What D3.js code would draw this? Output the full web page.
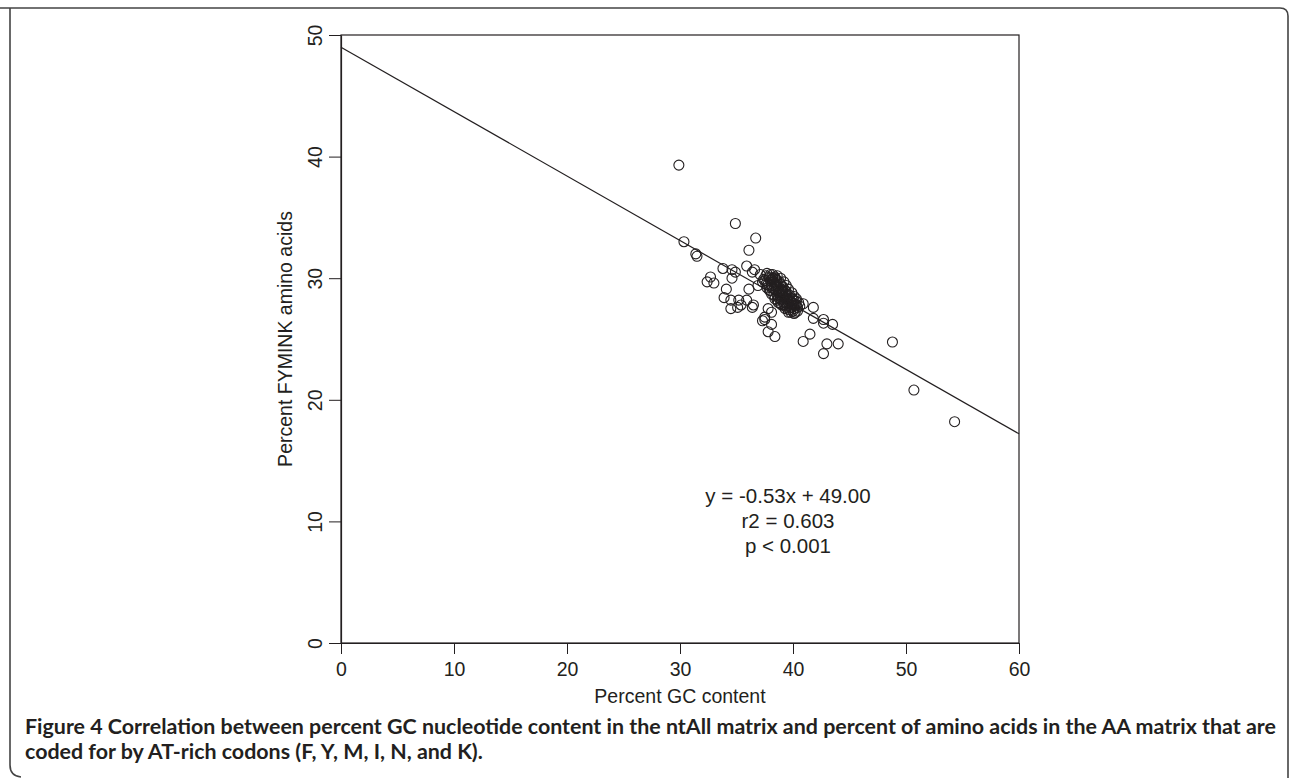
<!DOCTYPE html>
<html>
<head>
<meta charset="utf-8">
<script src="https://cdn.jsdelivr.net/npm/d3@7"></script>
<style>
  body { margin: 0; background: #fff; }
  svg { display: block; }
  .axis path, .axis line { stroke: #231f20; }
  .axis text { font-family: "Liberation Sans", Arial, sans-serif; font-size: 19.5px; fill: #231f20; }
</style>
</head>
<body>
<svg width="1290" height="778"></svg>
<script>
// Data: percent GC content vs percent FYMINK amino acids
var gcContent = [
  29.9, 30.35, 31.4, 31.5, 34.9, 36.7, 36.1, 33.8, 34.6, 34.9, 34.6, 32.7, 32.4, 33.0, 35.9,
  34.1, 36.1, 33.9, 34.5, 35.2, 35.9, 36.5, 36.4, 35.4, 35.1, 34.5, 37.8, 38.1, 37.5, 37.3,
  37.5, 38.1, 37.8, 38.4, 40.9, 41.5, 41.8, 41.8, 40.9, 42.7, 42.7, 43.5, 43.0, 44.0, 42.7,
  48.8, 50.7, 54.3, 36.6, 36.4, 37.1, 38.4, 36.9, 37.3,
  37.6, 37.9, 38.2, 38.5, 38.0, 38.3, 38.6, 38.9, 38.1, 38.4, 38.7, 39.0, 38.5, 38.8, 39.1,
  39.4, 38.6, 38.9, 39.2, 39.5, 39.0, 39.3, 39.6, 39.9, 39.2, 39.5, 39.8, 40.1, 39.7, 40.0,
  40.2, 39.9, 40.2, 40.3, 40.0, 39.7, 39.4, 39.1, 38.8, 38.4, 37.8, 38.0, 38.3, 38.6, 38.9,
  39.3, 40.4, 39.6, 38.2, 37.4, 38.7, 39.0, 39.8, 40.1, 39.4, 38.9, 38.5, 38.1, 39.6, 39.2,
  38.7, 37.7, 38.3,
  37.7, 38.0, 38.6, 38.9, 39.2, 39.4, 39.6, 39.9, 40.1, 40.3, 40.5, 40.6, 40.4, 40.1, 39.8,
  39.4, 39.0, 38.7, 38.4, 38.1, 37.9, 37.6, 37.5, 38.2, 38.9, 39.5, 40.0, 38.6, 39.3, 39.9,
  40.3, 37.9, 38.5, 39.1, 39.7
];
var fyminkPercent = [
  39.3, 33.0, 32.0, 31.8, 34.5, 33.3, 32.3, 30.8, 30.7, 30.5, 30.0, 30.1, 29.7, 29.6, 31.0,
  29.1, 29.1, 28.4, 28.2, 28.2, 28.2, 27.8, 27.6, 27.8, 27.6, 27.5, 27.5, 27.2, 26.8, 26.5,
  26.6, 26.2, 25.6, 25.2, 24.8, 25.4, 26.7, 27.6, 27.9, 26.6, 26.3, 26.2, 24.6, 24.6, 23.8,
  24.75, 20.8, 18.2, 30.7, 30.5, 30.3, 30.0, 29.4, 29.7,
  30.2, 30.1, 30.0, 29.9, 29.8, 29.7, 29.6, 29.5, 29.4, 29.3, 29.2, 29.1, 29.0, 28.9, 28.8,
  28.7, 28.6, 28.5, 28.4, 28.3, 28.2, 28.1, 28.0, 27.9, 27.8, 27.7, 27.6, 27.5, 27.4, 27.3,
  27.2, 27.6, 27.8, 28.1, 28.3, 28.6, 28.9, 29.3, 29.7, 30.1, 29.5, 29.0, 28.6, 28.2, 27.9,
  27.5, 27.6, 27.2, 30.3, 29.9, 28.8, 28.6, 28.1, 27.9, 28.4, 29.0, 29.4, 29.9, 28.5, 28.0,
  28.4, 29.2, 29.1,
  30.4, 30.3, 30.2, 30.0, 29.7, 29.4, 29.1, 28.8, 28.5, 28.3, 28.0, 27.7, 27.3, 27.1, 27.2,
  27.6, 27.8, 28.0, 28.3, 28.7, 29.0, 29.5, 29.8, 29.2, 28.3, 27.9, 27.7, 29.8, 29.0, 28.3,
  27.8, 30.0, 29.5, 28.9, 28.2
];
var fitSlope = -0.53;
var fitIntercept = 49.00;
var fitStats = ["y = -0.53x + 49.00", "r2 = 0.603", "p < 0.001"];
var xTicks = [0, 10, 20, 30, 40, 50, 60];
var yTicks = [0, 10, 20, 30, 40, 50];
var captionBold = "Figure 4";
var captionLines = [
  " Correlation between percent GC nucleotide content in the ntAll matrix and percent of amino acids in the AA matrix that are",
  "coded for by AT-rich codons (F, Y, M, I, N, and K)."
];

var ink = "#231f20";
var svg = d3.select("svg");

// Outer figure frame
svg.append("path")
  .attr("d", "M0,8 H1280 Q1288,8 1288,16 V778 M10,8 V765 Q10,776 21,777")
  .attr("fill", "none")
  .attr("stroke", "#444")
  .attr("stroke-width", 1.6);

var x = d3.scaleLinear().domain([0, 60]).range([341, 1019]);
var y = d3.scaleLinear().domain([0, 50]).range([643, 35]);

// Plot box
svg.append("rect")
  .attr("x", x(0)).attr("y", y(50))
  .attr("width", x(60) - x(0)).attr("height", y(0) - y(50))
  .attr("fill", "none").attr("stroke", ink).attr("stroke-width", 1.2);

var xAxis = svg.append("g")
  .attr("class", "axis")
  .attr("transform", "translate(0," + y(0) + ")")
  .call(d3.axisBottom(x).tickValues(xTicks).tickSize(11).tickPadding(8).tickSizeOuter(0));
xAxis.select(".domain").attr("stroke-width", 1.2);

var yAxis = svg.append("g")
  .attr("class", "axis")
  .attr("transform", "translate(" + x(0) + ",0)")
  .call(d3.axisLeft(y).tickValues(yTicks).tickSize(12).tickSizeOuter(0));
yAxis.select(".domain").attr("stroke-width", 1.2);
yAxis.selectAll(".tick text")
  .attr("transform", "rotate(-90)")
  .attr("x", 0)
  .attr("y", -19)
  .attr("dy", 0)
  .style("text-anchor", "middle");

// Axis titles
svg.append("text")
  .attr("x", (x(0) + x(60)) / 2).attr("y", 703)
  .attr("text-anchor", "middle")
  .style("font-family", "'Liberation Sans', Arial, sans-serif")
  .style("font-size", "19.5px").style("fill", ink)
  .text("Percent GC content");

svg.append("text")
  .attr("transform", "translate(292," + (y(0) + y(50)) / 2 + ") rotate(-90)")
  .attr("text-anchor", "middle")
  .style("font-family", "'Liberation Sans', Arial, sans-serif")
  .style("font-size", "19.5px").style("fill", ink)
  .text("Percent FYMINK amino acids");

// Regression line
svg.append("line")
  .attr("x1", x(0)).attr("y1", y(fitIntercept))
  .attr("x2", x(60)).attr("y2", y(fitIntercept + fitSlope * 60))
  .attr("stroke", ink).attr("stroke-width", 1.2);

// Points
var points = gcContent.map(function (g, i) { return [g, fyminkPercent[i]]; });
svg.append("g")
  .selectAll("circle")
  .data(points)
  .enter().append("circle")
  .attr("cx", function (d) { return x(d[0]); })
  .attr("cy", function (d) { return y(d[1]); })
  .attr("r", 5)
  .attr("fill", "none")
  .attr("stroke", ink)
  .attr("stroke-width", 1.1);

// Fit statistics
svg.append("g")
  .selectAll("text")
  .data(fitStats)
  .enter().append("text")
  .attr("x", 788)
  .attr("y", function (d, i) { return 503 + i * 25; })
  .attr("text-anchor", "middle")
  .style("font-family", "'Liberation Sans', Arial, sans-serif")
  .style("font-size", "20.5px").style("fill", ink)
  .text(function (d) { return d; });

// Caption
var cap = svg.append("g")
  .style("font-family", "Lato, 'Open Sans', sans-serif")
  .style("font-weight", "bold")
  .style("font-size", "17px")
  .style("fill", ink);

var line1 = cap.append("text").attr("x", 25).attr("y", 734);
line1.append("tspan").text(captionBold);
line1.append("tspan").text(captionLines[0]);
var line2 = cap.append("text").attr("x", 25).attr("y", 759).text(captionLines[1]);

// fit the caption width to the frame
var natural = line1.node().getComputedTextLength();
var size = 17 * 1252 / natural;
cap.style("font-size", size + "px");
</script>
</body>
</html>
